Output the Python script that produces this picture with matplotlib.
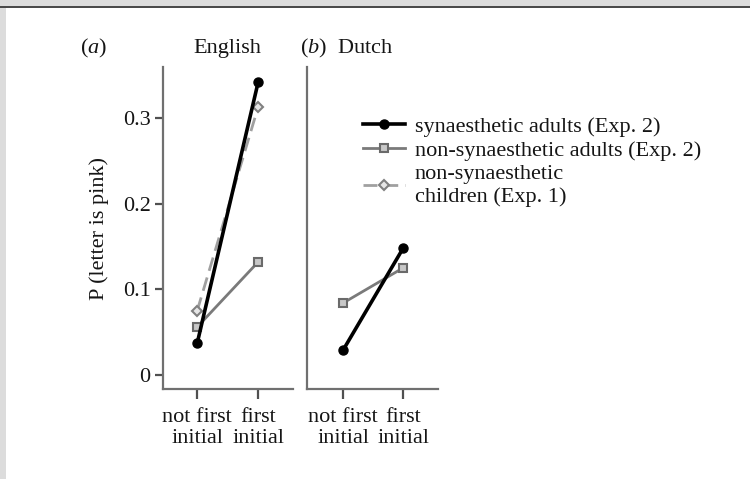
import matplotlib
matplotlib.use("Agg")
import matplotlib.pyplot as plt
from matplotlib.patches import Rectangle

plt.rcParams['font.family'] = ['Liberation Serif', 'DejaVu Serif']
plt.rcParams['mathtext.fontset'] = 'custom'
plt.rcParams['mathtext.rm'] = 'Liberation Serif'
plt.rcParams['mathtext.it'] = 'Liberation Serif:italic'

# conditions on the x axis
conditions = ["not first\ninitial", "first\ninitial"]

# English: P(letter is pink)
english_syn_adults = [0.037, 0.342]
english_nonsyn_adults = [0.056, 0.132]
english_nonsyn_children = [0.075, 0.313]

# Dutch: P(letter is pink)
dutch_syn_adults = [0.029, 0.148]
dutch_nonsyn_adults = [0.084, 0.125]

yticks = [0, 0.1, 0.2, 0.3]
ytick_labels = ["0", "0.1", "0.2", "0.3"]

legend_labels = ["synaesthetic adults (Exp. 2)",
                 "non-synaesthetic adults (Exp. 2)",
                 "non-synaesthetic\nchildren (Exp. 1)"]

W, H = 750, 479
fig = plt.figure(figsize=(W / 100, H / 100), dpi=100)
fig.patch.set_facecolor("white")

# page frame
fig.patches.append(Rectangle((0, 1 - 6 / H), 1, 6 / H, transform=fig.transFigure,
                             facecolor="#dcdcdc", edgecolor="none", zorder=0))
fig.patches.append(Rectangle((0, 1 - 8 / H), 1, 2.5 / H, transform=fig.transFigure,
                             facecolor="#4a4a4a", edgecolor="none", zorder=0))
fig.patches.append(Rectangle((0, 0), 6 / W, 1 - 8 / H, transform=fig.transFigure,
                             facecolor="#dcdcdc", edgecolor="none", zorder=0))

FS = 16
TEXT_C = "#151515"
SPINE_C = "#707070"


def px_axes(x0, x1, y0, y1):
    return fig.add_axes([x0 / W, 1 - y1 / H, (x1 - x0) / W, (y1 - y0) / H])


ax_a = px_axes(163, 293, 67, 389)
ax_b = px_axes(307, 438, 67, 389)

x = [0, 1]
syn_style = dict(color="black", lw=2.6, marker="o", ms=6.5, mfc="black", mec="black", zorder=4)
nonsyn_style = dict(color="#7a7a7a", lw=2.0, marker="s", ms=6, mfc="#c8c8c8", mec="#6a6a6a",
                    mew=1.5, zorder=3)
child_style = dict(color="#a0a0a0", lw=2.0, ls=(0, (5, 2.5)), marker="D", ms=5.5, mfc="#e6e6e6",
                   mec="#808080", mew=1.5, zorder=2)

ax_a.plot(x, english_nonsyn_children, **child_style)
ax_a.plot(x, english_nonsyn_adults, **nonsyn_style)
ax_a.plot(x, english_syn_adults, **syn_style)

ax_b.plot(x, dutch_nonsyn_adults, **nonsyn_style)
ax_b.plot(x, dutch_syn_adults, **syn_style)

for ax in (ax_a, ax_b):
    ax.set_xlim(-0.56, 1.57)
    ax.set_ylim(-0.0163, 0.3594)
    ax.set_facecolor("none")
    for s in ("top", "right"):
        ax.spines[s].set_visible(False)
    for s in ("left", "bottom"):
        ax.spines[s].set_color(SPINE_C)
        ax.spines[s].set_linewidth(1.6)
    ax.set_xticks(x)
    ax.set_xticklabels(conditions, fontsize=FS, color=TEXT_C, linespacing=1.1)
    ax.tick_params(axis="x", length=7, width=1.6, color="#505050", pad=7)
    ax.tick_params(axis="y", length=6, width=1.6, color="#505050", pad=3)

ax_b.set_xlim(-0.6, 1.58)
ax_a.set_yticks(yticks)
ax_a.set_yticklabels(ytick_labels, fontsize=FS, color=TEXT_C)
ax_b.set_yticks([])

ax_a.set_ylabel("P (letter is pink)", fontsize=FS, color=TEXT_C, labelpad=10)

fig.text(80 / W, 1 - 48 / H, r"$\mathrm{(}\mathit{a}\mathrm{)}$", fontsize=FS, color=TEXT_C,
         ha="left", va="center")
fig.text(227 / W, 1 - 48 / H, "English", fontsize=FS, color=TEXT_C, ha="center", va="center")
fig.text(300 / W, 1 - 48 / H, r"$\mathrm{(}\mathit{b}\mathrm{)}$" + "  Dutch", fontsize=FS,
         color=TEXT_C, ha="left", va="center")

handles = [ax_a.lines[2], ax_a.lines[1], ax_a.lines[0]]
leg = fig.legend(handles, legend_labels, loc="upper left",
                 bbox_to_anchor=(363 / W, 1 - 116 / H), frameon=False, fontsize=FS,
                 handlelength=1.9, handletextpad=0.42, labelspacing=0.18, borderpad=0,
                 borderaxespad=0, markerscale=1.0)
for t in leg.get_texts():
    t.set_color(TEXT_C)
    t.set_linespacing(1.2)

fig.savefig("out.png", dpi=100)
